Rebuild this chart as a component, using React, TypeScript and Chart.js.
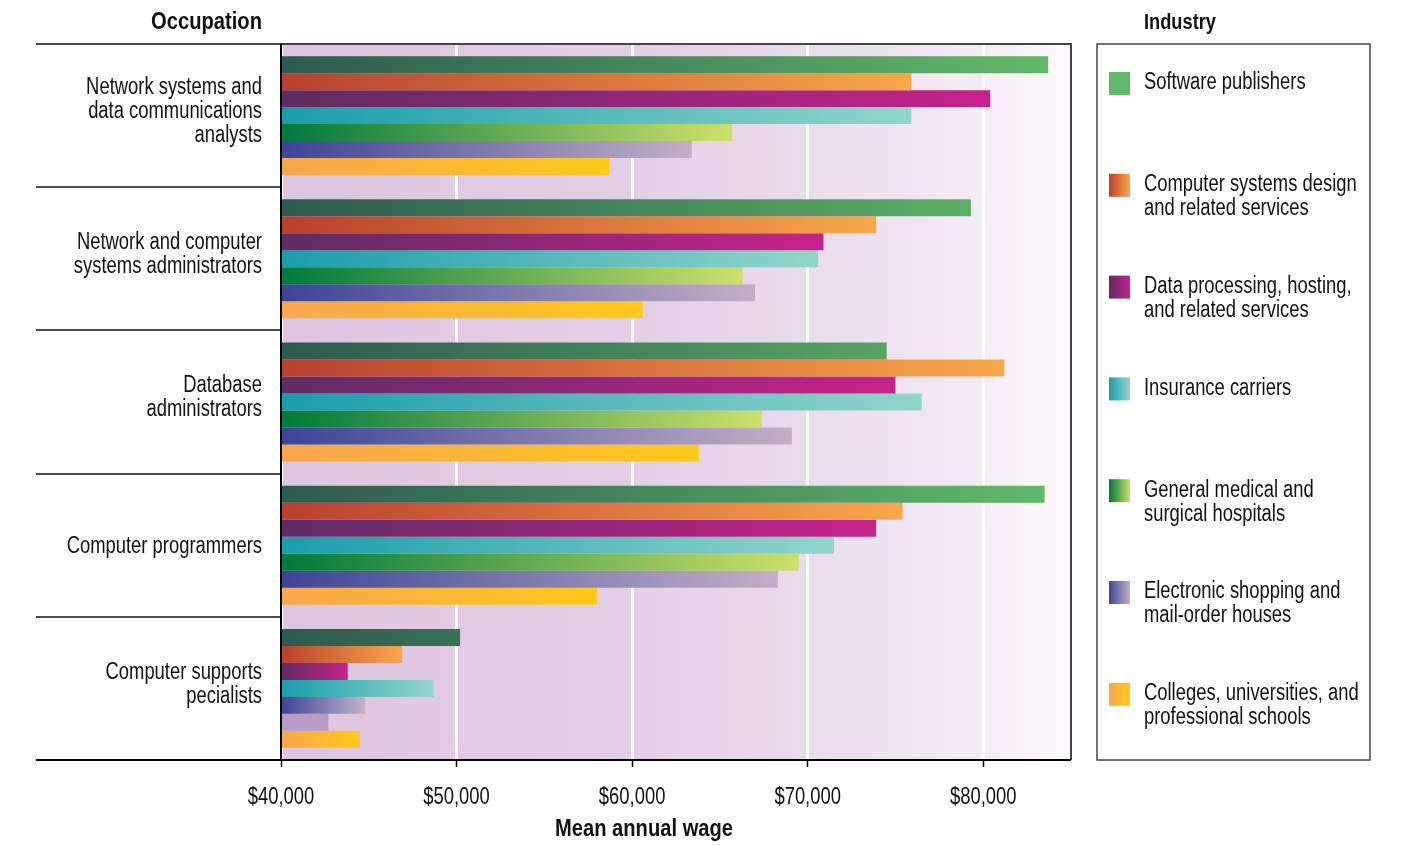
import React, { useEffect, useRef } from "react";
import { Chart, registerables } from "chart.js";

Chart.register(...registerables);

// ---------- data ----------
const occupations: string[][] = [
  ["Network systems and", "data communications", "analysts"],
  ["Network and computer", "systems administrators"],
  ["Database", "administrators"],
  ["Computer programmers"],
  ["Computer supports", "pecialists"],
];

const industries: string[] = [
  "Software publishers",
  "Computer systems design and related services",
  "Data processing, hosting, and related services",
  "Insurance carriers",
  "General medical and surgical hospitals",
  "Electronic shopping and mail-order houses",
  "Colleges, universities, and professional schools",
];

const legendLines: string[][] = [
  ["Software publishers"],
  ["Computer systems design", "and related services"],
  ["Data processing, hosting,", "and related services"],
  ["Insurance carriers"],
  ["General medical and", "surgical hospitals"],
  ["Electronic shopping and", "mail-order houses"],
  ["Colleges, universities, and", "professional schools"],
];

const softwarePublishers = [83700, 79300, 74500, 83500, 50200];
const computerSystemsDesign = [75900, 73900, 81200, 75400, 46900];
const dataProcessing = [80400, 70900, 75000, 73900, 43800];
const insuranceCarriers = [75900, 70600, 76500, 71500, 48700];
const generalHospitals = [65700, 66300, 67400, 69500, 44800];
const electronicShopping = [63400, 67000, 69100, 68300, 42700];
const colleges = [58700, 60600, 63800, 58000, 44500];

const xTicks = [40000, 50000, 60000, 70000, 80000];
const xMin = 40000;
const xMax = 85000;

// gradient start / end colours per industry
const industryColors: [string, string][] = [
  ["#2d5a4f", "#62b96b"],
  ["#b8402f", "#f9a74c"],
  ["#5e2c63", "#c6228b"],
  ["#1a9dab", "#93d5ca"],
  ["#00793c", "#cde06a"],
  ["#3c4497", "#c2afc6"],
  ["#f8a64e", "#ffc91a"],
];

// colour quirks seen in the last occupation group of the original
const lastGroupOverrides: Record<number, [string, string]> = {
  4: ["#3c4497", "#c2b2cc"],
  5: ["#b89bc9", "#b89bc9"],
};

const FONT = '"Liberation Sans", Arial, sans-serif';
const SX = 0.8; // horizontal squeeze to mimic a narrow face

function barFill(c: any) {
  const ds = c.datasetIndex;
  let [c0, c1] = industryColors[ds];
  const chart = c.chart;
  const xs = chart.scales && chart.scales.x;
  if (!xs || !chart.chartArea || c.type !== "data") return c0;
  if (c.dataIndex === 4 && lastGroupOverrides[ds]) {
    [c0, c1] = lastGroupOverrides[ds];
  }
  const x0 = xs.getPixelForValue(xMin);
  const x1 = ds === 0 ? xs.getPixelForValue(84000) : xs.getPixelForValue(c.raw);
  const g = chart.ctx.createLinearGradient(x0, 0, Math.max(x1, x0 + 1), 0);
  g.addColorStop(0, c0);
  g.addColorStop(1, c1);
  return g;
}

function txt(ctx: any, s: string, x: number, y: number, align: string, font: string, sx = SX) {
  ctx.save();
  ctx.translate(x, y);
  ctx.scale(sx, 1);
  ctx.font = font;
  ctx.textAlign = align;
  ctx.textBaseline = "middle";
  ctx.fillText(s, 0, 0);
  ctx.restore();
}

const decorPlugin = {
  id: "decor",
  beforeDraw(chart: any) {
    const { ctx, chartArea: a } = chart;
    ctx.save();
    const g = ctx.createLinearGradient(a.left, 0, a.right, 0);
    g.addColorStop(0, "#dec5df");
    g.addColorStop(0.45, "#e3cfe5");
    g.addColorStop(0.7, "#ebdeed");
    g.addColorStop(0.88, "#f3ebf4");
    g.addColorStop(1, "#fdfbfd");
    ctx.fillStyle = g;
    ctx.fillRect(a.left, a.top, a.right - a.left, a.bottom - a.top);
    ctx.restore();
  },
  afterDraw(chart: any) {
    const { ctx, chartArea: a } = chart;
    const xs = chart.scales.x;
    const ys = chart.scales.y;
    ctx.save();
    // right & top plot border
    ctx.strokeStyle = "#444";
    ctx.lineWidth = 2;
    ctx.beginPath();
    ctx.moveTo(a.left, a.top);
    ctx.lineTo(a.right, a.top);
    ctx.lineTo(a.right, a.bottom);
    ctx.stroke();
    // dividers on the left
    ctx.strokeStyle = "#111";
    ctx.lineWidth = 1.5;
    const n = occupations.length;
    const h = (a.bottom - a.top) / n;
    for (let i = 0; i <= n; i++) {
      const y = Math.round(a.top + i * h);
      ctx.beginPath();
      ctx.moveTo(36, y);
      ctx.lineTo(a.left, y);
      ctx.stroke();
    }
    // bottom axis line
    ctx.strokeStyle = "#000";
    ctx.lineWidth = 2;
    ctx.beginPath();
    ctx.moveTo(36, a.bottom);
    ctx.lineTo(a.right, a.bottom);
    ctx.stroke();
    // left axis line
    ctx.beginPath();
    ctx.moveTo(a.left, a.top);
    ctx.lineTo(a.left, a.bottom);
    ctx.stroke();

    ctx.fillStyle = "#111";
    // category labels (y axis)
    const reg = `23px ${FONT}`;
    occupations.forEach((lines, i) => {
      const yc = ys.getPixelForTick(i) - (lines.length > 1 ? 4 : -1);
      const lh = 24;
      const y0 = yc - ((lines.length - 1) * lh) / 2;
      lines.forEach((t, k) => txt(ctx, t, 262, y0 + k * lh, "right", reg));
    });
    // x tick labels
    xs.ticks.forEach((t: any) => {
      const x = xs.getPixelForValue(t.value);
      txt(ctx, "$" + Number(t.value).toLocaleString("en-US"), x, 798, "center", reg);
    });

    // titles
    txt(ctx, "Occupation", 262, 22, "right", `bold 24px ${FONT}`, 0.84);
    txt(ctx, "Mean annual wage", 644, 829, "center", `bold 24px ${FONT}`, 0.84);
    txt(ctx, "Industry", 1180, 23, "center", `bold 22px ${FONT}`, 0.83);

    // legend box
    ctx.strokeStyle = "#444";
    ctx.lineWidth = 1.5;
    ctx.strokeRect(1097, a.top, 273, a.bottom - a.top);
    legendLines.forEach((lines, i) => {
      const y0 = 83 + i * 101.8;
      let [c0, c1] = industryColors[i];
      if (i === 0) c0 = c1;
      const sg = ctx.createLinearGradient(1109, 0, 1130, 0);
      sg.addColorStop(0, c0);
      sg.addColorStop(1, c1);
      ctx.fillStyle = sg;
      ctx.fillRect(1109, y0 - 11, 21, 23);
      ctx.fillStyle = "#111";
      lines.forEach((t, k) => txt(ctx, t, 1144, y0 + k * 24, "left", reg));
    });
    ctx.restore();
  },
};

export default function App() {
  const ref = useRef<HTMLCanvasElement | null>(null);
  useEffect(() => {
    if (!ref.current) return;
    const series = [
      softwarePublishers,
      computerSystemsDesign,
      dataProcessing,
      insuranceCarriers,
      generalHospitals,
      electronicShopping,
      colleges,
    ];
    const chart = new Chart(ref.current, {
      type: "bar",
      data: {
        labels: occupations.map((l) => l.join(" ")),
        datasets: series.map((d, i) => ({
          label: industries[i],
          data: d,
          backgroundColor: barFill as any,
          borderWidth: 0,
          barPercentage: 1,
          categoryPercentage: 0.83,
        })),
      },
      options: {
        indexAxis: "y",
        animation: false,
        responsive: true,
        maintainAspectRatio: false,
        layout: { padding: { top: 44, right: 331, left: 0, bottom: 0 } },
        plugins: { legend: { display: false }, tooltip: { enabled: false }, title: { display: false } },
        scales: {
          x: {
            type: "linear",
            min: xMin,
            max: xMax,
            position: "bottom",
            afterBuildTicks: (s: any) => {
              s.ticks = xTicks.map((v) => ({ value: v }));
            },
            afterFit: (s: any) => {
              s.height = 86;
            },
            grid: {
              color: "#ffffff",
              lineWidth: 3,
              drawOnChartArea: true,
              drawTicks: true,
              tickLength: 7,
              tickColor: "#000",
              tickWidth: 1.5,
            },
            border: { display: false },
            ticks: { display: false },
          },
          y: {
            type: "category",
            afterFit: (s: any) => {
              s.width = 281;
            },
            grid: { display: false, drawTicks: false },
            border: { display: false },
            ticks: { display: false },
          },
        },
      },
      plugins: [decorPlugin],
    });
    return () => chart.destroy();
  }, []);
  return (
    <div style={{ position: "absolute", left: 0, top: 0, width: 1402, height: 846, background: "#fff" }}>
      <canvas ref={ref} />
    </div>
  );
}
